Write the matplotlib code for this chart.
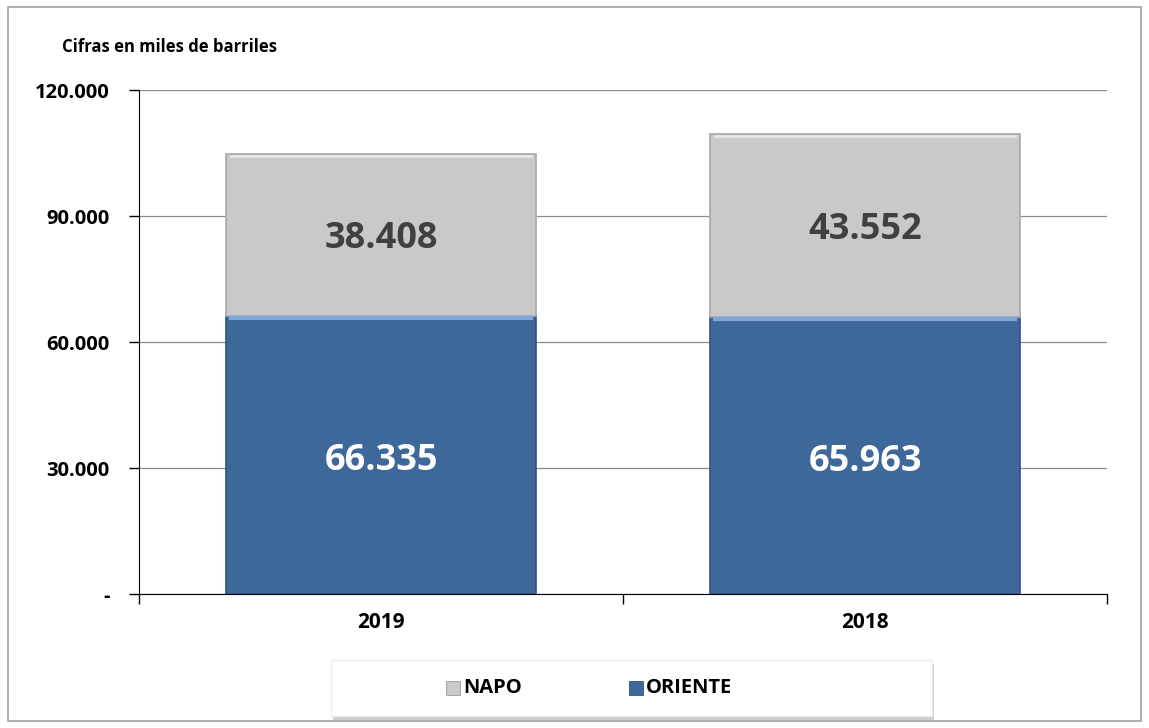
import matplotlib.pyplot as plt
from matplotlib.patches import Rectangle
import matplotlib.ticker as mticker

# data
years = ["2019", "2018"]
oriente = [66335, 65963]
napo = [38408, 43552]

col_oriente = '#3d6899'
col_napo = '#c9c9c9'

plt.rcParams['font.family'] = ['Open Sans', 'DejaVu Sans']
plt.rcParams['font.weight'] = 'bold'

fig = plt.figure(figsize=(11.49, 7.28), dpi=100)
ax = fig.add_axes([0.121, 0.184, 0.8425, 0.692])

x = range(len(years))
w = 0.64
ax.bar(x, oriente, width=w, color=col_oriente, edgecolor='#2f5480', linewidth=1.2, zorder=3)
ax.bar(x, napo, width=w, bottom=oriente, color=col_napo, edgecolor='#a8a8a8', linewidth=1.2, zorder=3)

# light bevel on the top edge of each segment
for i in x:
    ax.plot([i - w / 2 + 0.01, i + w / 2 - 0.01], [oriente[i] - 500] * 2, color='#7ea6dc', lw=3, zorder=4)
    ax.plot([i - w / 2 + 0.01, i + w / 2 - 0.01], [oriente[i] + napo[i] - 400] * 2, color='#e6e6e6', lw=2, zorder=4)

for i in x:
    ax.text(i, oriente[i] / 2 - 1500, f"{oriente[i]:,}".replace(",", "."), ha='center', va='center',
            fontsize=26, fontweight='bold', color='white', zorder=5)
    ax.text(i, oriente[i] + napo[i] / 2 - 1000, f"{napo[i]:,}".replace(",", "."), ha='center', va='center',
            fontsize=26, fontweight='bold', color='#404040', zorder=5)

ax.set_xlim(-0.5, 1.5)
ax.set_ylim(0, 120000)
ax.set_yticks([0, 30000, 60000, 90000, 120000])
ax.yaxis.set_major_formatter(mticker.FuncFormatter(
    lambda v, p: "-" if v == 0 else f"{int(v):,}".replace(",", ".")))
ax.grid(axis='y', color='#8c8c8c', lw=0.9, zorder=0)
ax.set_axisbelow(True)

ax.set_xticks([0, 1])
ax.set_xticklabels(years)
ax.set_xticks([-0.5, 0.5, 1.5], minor=True)
ax.tick_params(axis='x', which='major', length=0, pad=13, labelsize=15)
ax.tick_params(axis='x', which='minor', length=7, width=1, direction='out')
ax.tick_params(axis='y', length=7, width=1, labelsize=14.5, pad=14)
for lab in ax.get_xticklabels() + ax.get_yticklabels():
    lab.set_fontweight('bold')

for s in ['top', 'right']:
    ax.spines[s].set_visible(False)
ax.spines['left'].set_color('black')
ax.spines['bottom'].set_color('black')

fig.text(62 / 1149, 1 - 47 / 728, "Cifras en miles de barriles", fontsize=12, fontweight='bold',
         va='center', ha='left')

# outer border
fig.patches.append(Rectangle((8 / 1149, 7 / 728), 1133 / 1149, 714 / 728, transform=fig.transFigure,
                             fill=False, edgecolor='#a0a0a0', lw=1.2))

# legend box with a soft shadow
lx0, ly0, lw_, lh = 331 / 1149, 1 - 716 / 728, 601 / 1149, 56 / 728
fig.patches.append(Rectangle((lx0 + 0.002, ly0 - 0.005), lw_, lh, transform=fig.transFigure,
                             facecolor='#b0b0b0', edgecolor='none', alpha=0.6))
fig.patches.append(Rectangle((lx0, ly0), lw_, lh, transform=fig.transFigure,
                             facecolor='white', edgecolor='#ececec', lw=0.8))
cy = ly0 + lh / 2
for sx, col, ec, name in [(446, col_napo, '#9a9a9a', "NAPO"), (629, col_oriente, '#2f5480', "ORIENTE")]:
    fig.patches.append(Rectangle((sx / 1149, cy - 7 / 728), 14 / 1149, 14 / 728, transform=fig.transFigure,
                                 facecolor=col, edgecolor=ec, lw=0.6))
    fig.text((sx + 17) / 1149, cy, name, fontsize=14.5, fontweight='bold', va='center', ha='left')

fig.savefig("out.png", dpi=100, facecolor='white')
